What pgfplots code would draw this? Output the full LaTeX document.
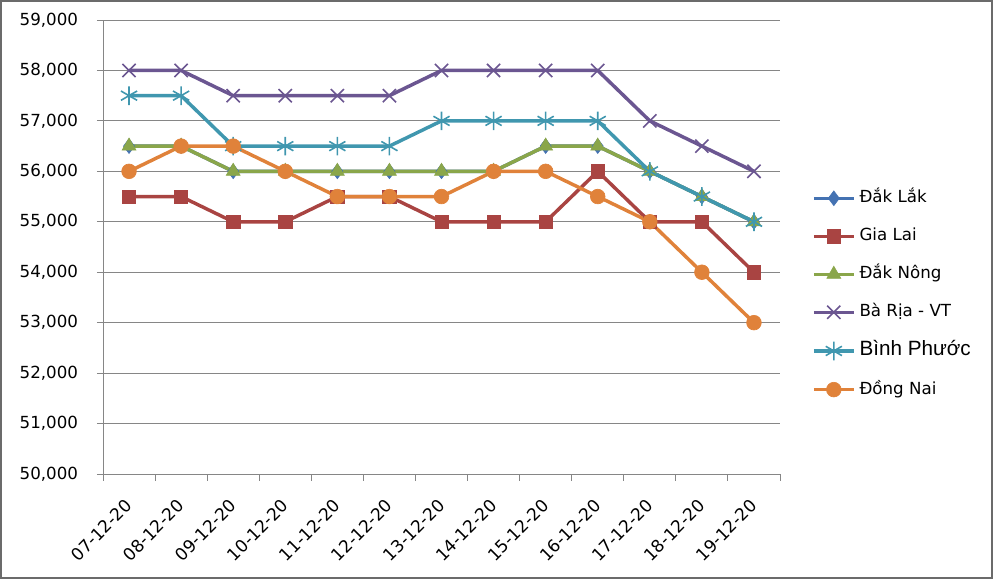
\documentclass[border=0pt]{standalone}
\usepackage{fontspec}
\setmainfont{DejaVu Sans}
\newfontfamily\arialf{Liberation Sans}
\usepackage{pgfplots}
\usepackage{pgfplotstable}
\pgfplotsset{compat=1.18}
\definecolor{cdl}{RGB}{68,114,178}
\definecolor{cgl}{RGB}{169,68,66}
\definecolor{cdn}{RGB}{138,166,74}
\definecolor{cbr}{RGB}{107,86,145}
\definecolor{cbp}{RGB}{64,151,175}
\definecolor{cdnai}{RGB}{224,130,58}
\definecolor{gridg}{RGB}{134,134,134}
\pgfplotstableread{
x dl gl dn br bp dnai
0 56500 55500 56500 58000 57500 56000
1 56500 55500 56500 58000 57500 56500
2 56000 55000 56000 57500 56500 56500
3 56000 55000 56000 57500 56500 56000
4 56000 55500 56000 57500 56500 55500
5 56000 55500 56000 57500 56500 55500
6 56000 55000 56000 58000 57000 55500
7 56000 55000 56000 58000 57000 56000
8 56500 55000 56500 58000 57000 56000
9 56500 56000 56500 58000 57000 55500
10 56000 55000 56000 57000 56000 55000
11 55500 55000 55500 56500 55500 54000
12 55000 54000 55000 56000 55000 53000
}\datatab
\begin{document}
\begin{tikzpicture}
\useasboundingbox (0,0) rectangle (744.75pt,434.25pt);
\draw[gridg!80!black, line width=1.5pt] (0.75pt,0.75pt) rectangle (744pt,433.5pt);
\begin{axis}[
  at={(77.25pt,78.75pt)}, anchor=south west,
  scale only axis, width=507.75pt, height=340.5pt,
  xmin=-0.5, xmax=12.5, ymin=50000, ymax=59000,
  axis x line*=bottom, axis y line*=left,
  axis line style={gridg, line width=0.75pt, -},
  xtick={0,...,12},
  xticklabels={07-12-20,08-12-20,09-12-20,10-12-20,11-12-20,12-12-20,13-12-20,14-12-20,15-12-20,16-12-20,17-12-20,18-12-20,19-12-20},
  major x tick style={draw=none},
  minor xtick={-0.5,0.5,...,12.5},
  minor tick length=5pt,
  minor x tick style={gridg, line width=0.75pt},
  ytick={50000,51000,...,59000},
  major tick length=4.5pt,
  tick align=outside,
  y tick style={gridg, line width=0.75pt},
  ymajorgrids, grid style={gridg, line width=0.75pt},
  scaled y ticks=false,
  yticklabel style={/pgf/number format/.cd, fixed, 1000 sep={,}, assume math mode=true},
  tick label style={font=\fontsize{12.5}{15}\selectfont, inner sep=0pt},
  yticklabel shift=14pt,
  xticklabel style={rotate=45, anchor=east, font=\fontsize{12.8}{15}\selectfont},
  xticklabel shift=17pt,
  legend style={draw=none, fill=none, at={(1.047,0.627)}, anchor=north west,
    inner sep=0pt, row sep=15.5pt, column sep=3pt,
    font=\fontsize{12.5}{15}\selectfont,
    nodes={inner sep=0pt, text height=10pt, text depth=3pt}},
  legend cell align=left,
  legend image code/.code={\draw[mark repeat=2,mark phase=2,#1] plot coordinates {(0pt,0pt)(15pt,0pt)(30pt,0pt)};},
  every axis plot/.append style={line width=2.6pt},
]
\addplot[cdl, mark=diamond*, mark size=5.5pt, mark options={line width=0.5pt}] table[x=x,y=dl]{\datatab};
\addplot[cgl, mark=square*, mark size=5pt, mark options={line width=0.5pt}] table[x=x,y=gl]{\datatab};
\addplot[cdn, mark=triangle*, mark size=6pt, mark options={line width=0.5pt}] table[x=x,y=dn]{\datatab};
\addplot[cbr, mark=x, mark size=7pt, mark options={line width=1.2pt}] table[x=x,y=br]{\datatab};
\addplot[cbp, mark=asterisk, mark size=7pt, mark options={line width=1.2pt}] table[x=x,y=bp]{\datatab};
\addplot[cdnai, mark=*, mark size=5.5pt, mark options={line width=0.5pt}] table[x=x,y=dnai]{\datatab};
\legend{Đắk Lắk, Gia Lai, Đắk Nông, Bà Rịa - VT, {\arialf\fontsize{15.5}{18}\selectfont Bình Phước}, Đồng Nai}
\end{axis}
\end{tikzpicture}
\end{document}
